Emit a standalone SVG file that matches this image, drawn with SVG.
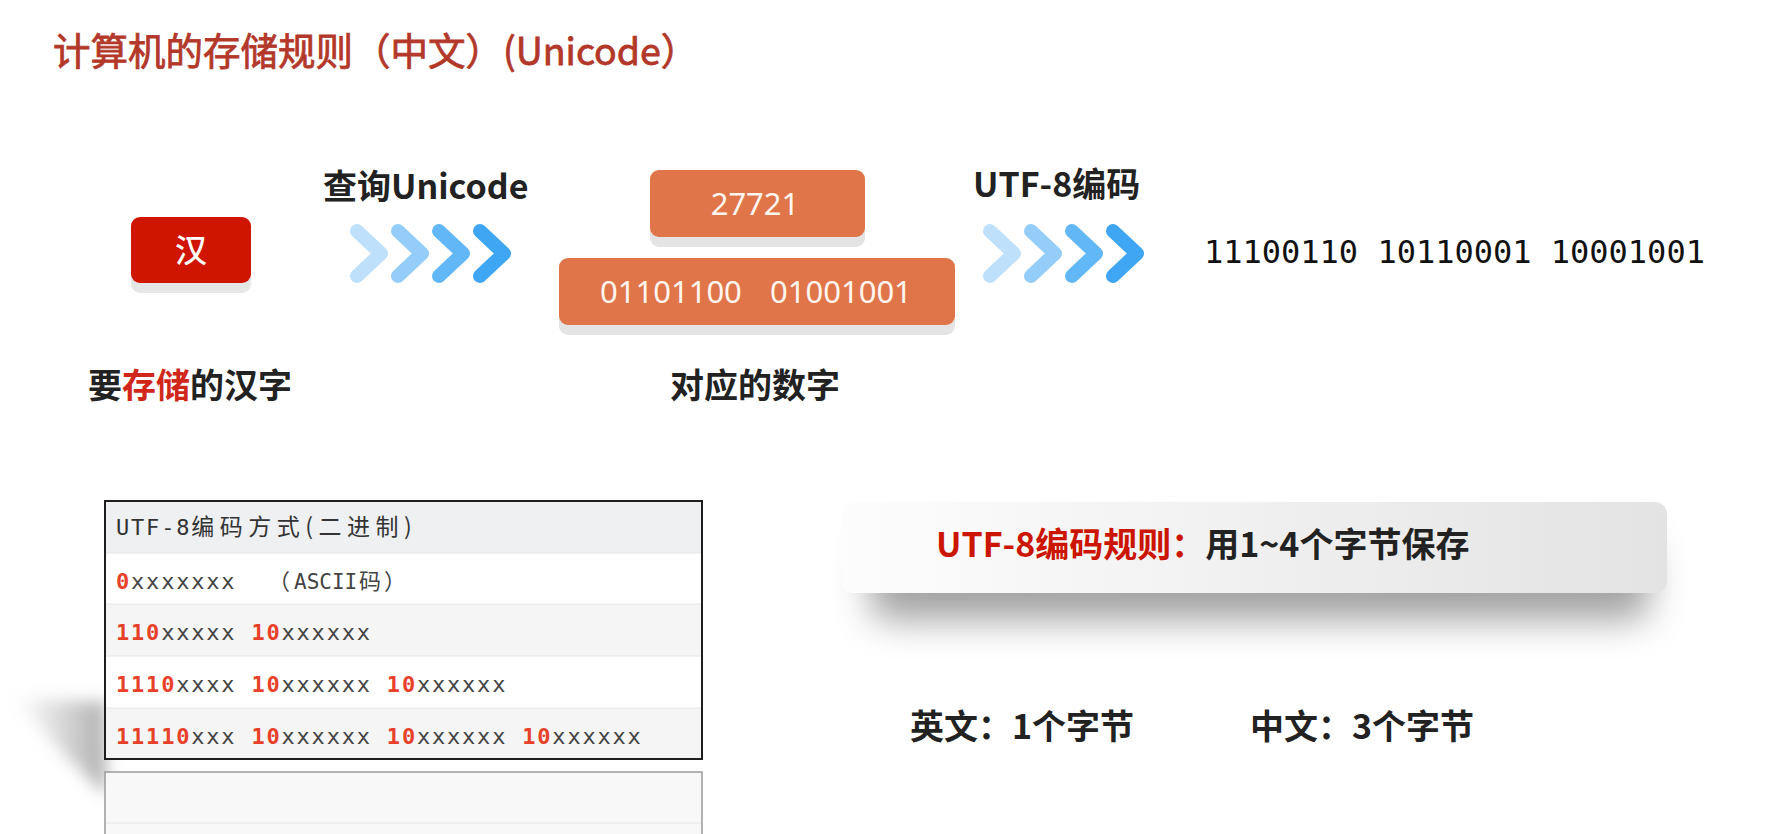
<svg xmlns="http://www.w3.org/2000/svg" width="1770" height="834" viewBox="0 0 1770 834">
<defs>
<style>
.cjk{font-family:"Noto Sans CJK SC","Noto Sans",sans-serif}
.lbl{font-family:"Noto Sans CJK SC","Noto Sans",sans-serif;font-size:34px;font-weight:bold;fill:#222}
.num{font-family:"Noto Sans","Noto Sans CJK SC",sans-serif;font-size:31px;fill:#fff6f0}
.mono{font-family:"DejaVu Sans Mono","Noto Sans CJK SC",monospace;font-size:22px;letter-spacing:1.8px;fill:#444}
.red{fill:#e8412a;font-weight:bold}
.chev{fill:none;stroke-width:14;stroke-linecap:round;stroke-linejoin:round}
.c1{stroke:#bfe0fb}.c2{stroke:#94cdf9}.c3{stroke:#62b8f6}.c4{stroke:#3ea6f2}
.row{stroke:#e6e6e6;stroke-width:1}
</style>
<linearGradient id="boxg" x1="0" y1="0" x2="1" y2="0">
<stop offset="0" stop-color="#fdfdfd"/><stop offset="1" stop-color="#e3e3e3"/>
</linearGradient>
<linearGradient id="tshadow" x1="0" y1="0" x2="1" y2="0">
<stop offset="0" stop-color="#aaa" stop-opacity="0"/><stop offset="1" stop-color="#999" stop-opacity="0.8"/>
</linearGradient>
<filter id="blur18" x="-30%" y="-80%" width="160%" height="260%"><feGaussianBlur stdDeviation="18"/></filter>
<filter id="blur8" x="-50%" y="-50%" width="200%" height="200%"><feGaussianBlur stdDeviation="8"/></filter>
<g id="chevset">
<polyline class="chev c1" points="7,231 31,253.5 7,276"/>
<polyline class="chev c2" points="48,231 72,253.5 48,276"/>
<polyline class="chev c3" points="89,231 113,253.5 89,276"/>
<polyline class="chev c4" points="130,231 154,253.5 130,276"/>
</g>
</defs>
<rect width="1770" height="834" fill="#fff"/>

<g id="title">
<text x="53" y="65" class="cjk" font-size="37.5" fill="#b3382a" stroke="#b3382a" stroke-width="0.8">计算机的存储规则（中文）(Unicode）</text>
</g>

<g id="node-han">
<rect x="131" y="227" width="120" height="66" rx="9" fill="#e6e6e6"/>
<rect x="131" y="217" width="120" height="66" rx="9" fill="#cf1500"/>
<text x="191" y="262" class="cjk" font-size="32" font-weight="500" fill="#fff" text-anchor="middle">汉</text>
<text x="88" y="398" class="lbl">要<tspan fill="#d0271a">存储</tspan>的汉字</text>
</g>

<g id="connectors">
<g id="conn-unicode">
<text x="323" y="199" class="lbl">查询Unicode</text>
<use href="#chevset" x="350" y="0"/>
</g>
<g id="conn-utf8">
<text x="973" y="197" class="lbl">UTF-8编码</text>
<use href="#chevset" x="983" y="0"/>
</g>
</g>

<g id="node-number">
<rect x="650" y="180" width="215" height="67" rx="9" fill="#e4e4e4"/>
<rect x="650" y="170" width="215" height="67" rx="9" fill="#e07549"/>
<text x="755" y="215" class="num" text-anchor="middle">27721</text>
<rect x="559" y="268" width="396" height="67" rx="9" fill="#e4e4e4"/>
<rect x="559" y="258" width="396" height="67" rx="9" fill="#e07549"/>
<text x="600" y="303" class="num">01101100</text>
<text x="770" y="303" class="num">01001001</text>
<text x="670" y="398" class="lbl">对应的数字</text>
</g>

<g id="node-result">
<text x="1204" y="263" font-family="DejaVu Sans Mono,monospace" font-size="32" fill="#111">11100110 10110001 10001001</text>
</g>

<g id="table">
<polygon points="14,698 106,702 106,795 70,760" fill="url(#tshadow)" filter="url(#blur8)"/>
<rect x="105" y="772" width="597" height="70" fill="#f8f8f8" stroke="#9a9a9a" stroke-width="1.5"/>
<line x1="106" y1="823" x2="701" y2="823" class="row"/>
<rect x="105" y="501" width="597" height="52" fill="#eef0f2"/>
<rect x="105" y="553" width="597" height="51" fill="#fff"/>
<rect x="105" y="604" width="597" height="52" fill="#f5f5f5"/>
<rect x="105" y="656" width="597" height="52" fill="#fff"/>
<rect x="105" y="708" width="597" height="51" fill="#f5f5f5"/>
<line x1="105" y1="553" x2="702" y2="553" class="row"/>
<line x1="105" y1="604" x2="702" y2="604" class="row"/>
<line x1="105" y1="656" x2="702" y2="656" class="row"/>
<line x1="105" y1="708" x2="702" y2="708" class="row"/>
<rect x="105" y="501" width="597" height="258" fill="none" stroke="#1e1e1e" stroke-width="2"/>
<text x="116" y="535" class="mono" style="fill:#333">UTF-8<tspan class="cjk" font-size="23" letter-spacing="5.5">编码方式(二进制)</tspan></text>
<text x="116" y="589" class="mono"><tspan class="red">0</tspan>xxxxxxx <tspan x="268" class="cjk">（</tspan><tspan x="294" letter-spacing="0" font-size="21">ASCII</tspan><tspan x="359" class="cjk">码</tspan><tspan x="384" class="cjk">）</tspan></text>
<text x="116" y="640" class="mono"><tspan class="red">110</tspan>xxxxx <tspan class="red">10</tspan>xxxxxx</text>
<text x="116" y="692" class="mono"><tspan class="red">1110</tspan>xxxx <tspan class="red">10</tspan>xxxxxx <tspan class="red">10</tspan>xxxxxx</text>
<text x="116" y="744" class="mono"><tspan class="red">11110</tspan>xxx <tspan class="red">10</tspan>xxxxxx <tspan class="red">10</tspan>xxxxxx <tspan class="red">10</tspan>xxxxxx</text>
</g>

<g id="rule">
<rect x="870" y="540" width="780" height="80" rx="20" fill="#7a7a7a" opacity="0.7" filter="url(#blur18)"/>
<rect x="841" y="502" width="826" height="91" rx="12" fill="url(#boxg)"/>
<text x="936" y="557" class="lbl"><tspan fill="#cc1500">UTF-8编码规则：</tspan>用1~4个字节保存</text>
</g>

<g id="bytes">
<text x="910" y="739" class="lbl">英文：1个字节</text>
<text x="1250" y="739" class="lbl">中文：3个字节</text>
</g>
</svg>
